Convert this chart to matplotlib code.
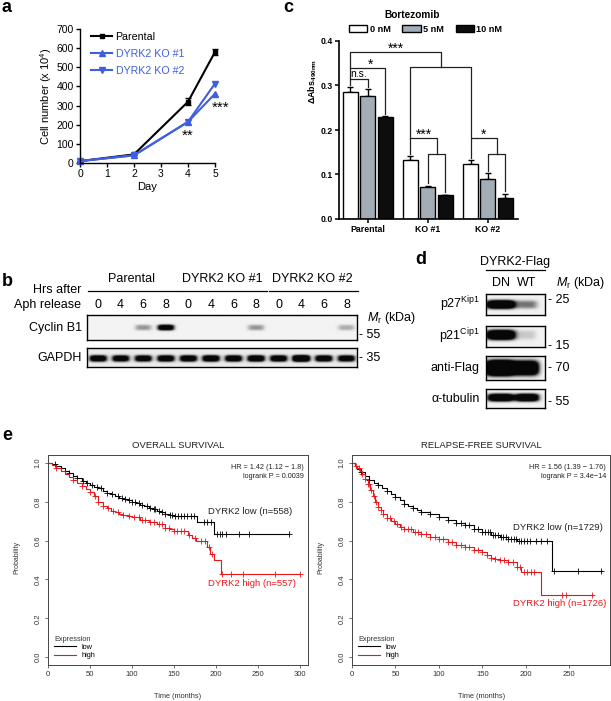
import numpy as np
import matplotlib
matplotlib.use('Agg')
import matplotlib.pyplot as plt
from matplotlib.lines import Line2D

plt.rcParams['font.family'] = ['Liberation Sans', 'DejaVu Sans']
plt.rcParams['mathtext.fontset'] = 'custom'
plt.rcParams['mathtext.rm'] = 'Liberation Sans'
plt.rcParams['mathtext.it'] = 'Liberation Sans:italic'
plt.rcParams['mathtext.bf'] = 'Liberation Sans:bold'

# ---------------- data ----------------
# panel a
days = [0, 2, 4, 5]
parental = [10, 45, 320, 580]
parental_err = [3, 5, 18, 18]
ko1 = [10, 40, 215, 362]
ko2 = [10, 40, 215, 415]

# panel c
groups = ['Parental', 'KO #1', 'KO #2']
doses = ['0 nM', '5 nM', '10 nM']
abs_0nm = [0.285, 0.133, 0.123]
abs_5nm = [0.277, 0.073, 0.090]
abs_10nm = [0.230, 0.053, 0.047]
err_0nm = [0.012, 0.009, 0.010]
err_5nm = [0.015, 0.002, 0.013]
err_10nm = [0.002, 0.002, 0.010]

# panel b (blot band intensities per lane)
b_groups = ['Parental', 'DYRK2 KO #1', 'DYRK2 KO #2']
b_hours = ['0', '4', '6', '8']
cyclinb1 = [0, 0, 0.4, 1.6, 0, 0, 0, 0.4, 0, 0, 0, 0.3]
gapdh = [1.6, 1.5, 1.5, 1.6, 1.6, 1.7, 1.6, 1.7, 1.6, 2.2, 1.6, 1.5]

# panel d
d_lanes = ['DN', 'WT']
p27 = [2.2, 0.55]
p21 = [2.2, 0.18]
antiflag = [3.5, 2.2]
tubulin = [2.0, 2.0]

# panel e  (Kaplan-Meier step curves)
os_low_t = [0, 5, 10, 15, 20, 25, 30, 35, 40, 45, 50, 55, 60, 65, 70, 75, 80, 85, 90, 95, 100,
            105, 110, 115, 120, 125, 130, 135, 140, 145, 150, 160, 170, 178, 198, 287]
os_low_s = [1.0, 0.995, 0.985, 0.972, 0.958, 0.945, 0.932, 0.92, 0.908, 0.898, 0.888, 0.878, 0.868,
            0.857, 0.847, 0.837, 0.828, 0.82, 0.813, 0.806, 0.80, 0.792, 0.784, 0.776, 0.768, 0.76,
            0.752, 0.745, 0.738, 0.73, 0.728, 0.726, 0.725, 0.693, 0.635, 0.635]
os_low_c = [8, 25, 35, 42, 46, 52, 58, 63, 70, 76, 84, 88, 92, 96, 100, 104, 108, 112, 118, 122,
            126, 128, 132, 136, 140, 145, 148, 152, 155, 158, 162, 166, 170, 174, 186, 190, 194,
            202, 205, 208, 212, 228, 240, 287]
os_high_t = [0, 5, 10, 15, 20, 25, 30, 35, 40, 45, 50, 55, 60, 65, 70, 75, 80, 85, 90, 95, 100,
             110, 120, 130, 140, 145, 150, 160, 167, 172, 177, 190, 193, 198, 206, 300]
os_high_s = [1.0, 0.99, 0.975, 0.96, 0.94, 0.925, 0.91, 0.895, 0.88, 0.865, 0.85, 0.83, 0.80, 0.78,
             0.765, 0.752, 0.745, 0.738, 0.73, 0.725, 0.72, 0.708, 0.697, 0.685, 0.665, 0.658, 0.65,
             0.648, 0.63, 0.615, 0.60, 0.565, 0.53, 0.50, 0.43, 0.43]
os_high_c = [10, 30, 40, 50, 56, 60, 66, 72, 78, 84, 90, 96, 102, 108, 112, 116, 122, 126, 132, 136,
             140, 144, 150, 154, 158, 162, 168, 175, 183, 187, 192, 196, 208, 218, 232, 271, 300]

rfs_low_t = [0, 3, 6, 10, 15, 20, 25, 30, 35, 40, 45, 50, 55, 60, 65, 70, 75, 80, 90, 100, 110, 120,
             130, 140, 150, 160, 170, 180, 190, 200, 230, 288]
rfs_low_s = [1.0, 0.985, 0.97, 0.952, 0.932, 0.913, 0.898, 0.885, 0.87, 0.855, 0.84, 0.825, 0.81,
             0.79, 0.778, 0.767, 0.757, 0.748, 0.735, 0.72, 0.705, 0.69, 0.678, 0.662, 0.645, 0.63,
             0.62, 0.61, 0.60, 0.598, 0.445, 0.445]
rfs_low_c = [10, 20, 30, 40, 50, 60, 70, 80, 90, 100, 110, 120, 125, 130, 135, 140, 145, 150, 153,
             156, 159, 162, 165, 168, 171, 174, 177, 180, 183, 186, 189, 192, 195, 198, 201, 205,
             212, 218, 224, 233, 260, 287]
rfs_high_t = [0, 3, 6, 9, 12, 15, 18, 21, 24, 27, 30, 33, 36, 40, 45, 50, 55, 60, 70, 80, 90, 100,
              110, 120, 130, 140, 150, 155, 160, 165, 170, 180, 190, 194, 217, 278]
rfs_high_s = [1.0, 0.985, 0.972, 0.958, 0.94, 0.915, 0.89, 0.86, 0.828, 0.80, 0.775, 0.755, 0.738,
              0.718, 0.70, 0.685, 0.668, 0.658, 0.645, 0.632, 0.62, 0.608, 0.593, 0.578, 0.565,
              0.553, 0.54, 0.525, 0.51, 0.505, 0.498, 0.49, 0.465, 0.44, 0.32, 0.32]
rfs_high_c = [5, 8, 12, 15, 18, 20, 22, 25, 28, 30, 33, 36, 40, 44, 48, 52, 56, 60, 64, 68, 72, 76,
              80, 85, 90, 95, 100, 105, 110, 115, 120, 125, 130, 135, 140, 145, 150, 155, 160, 165,
              170, 175, 180, 185, 190, 193, 198, 202, 206, 210, 242, 246, 276]

# ---------------- helpers ----------------
W, H = 611, 701
fig = plt.figure(figsize=(W / 100, H / 100), dpi=100)


def R(l, t, r, b):
    return [l / W, 1 - b / H, (r - l) / W, (b - t) / H]


def T(x, y, s, **kw):
    kw.setdefault('va', 'center')
    return fig.text(x / W, 1 - y / H, s, **kw)


def L(x0, y0, x1, y1, **kw):
    fig.add_artist(Line2D([x0 / W, x1 / W], [1 - y0 / H, 1 - y1 / H],
                          transform=fig.transFigure, color='k', **kw))


BLUE = '#3f5fe0'
RED = '#e8161b'

# panel letters
for x, y, s in [(2, 8, 'a'), (283, 7, 'c'), (2, 282, 'b'), (415, 260, 'd'), (2, 435, 'e')]:
    T(x, y, s, fontsize=13, weight='bold', ha='left')

# ---------------- panel a ----------------
ax = fig.add_axes(R(80, 29, 215, 163))
ax.errorbar(days, parental, yerr=parental_err, fmt='none', ecolor='k', elinewidth=1,
            capsize=2.2, capthick=1, clip_on=False)
ax.plot(days, parental, color='k', marker='s', ms=3.5, lw=1.5, label='Parental', clip_on=False)
ax.plot(days, ko1, color=BLUE, marker='^', ms=3.8, lw=1.5, label='DYRK2 KO #1', clip_on=False)
ax.plot(days, ko2, color=BLUE, marker='v', ms=3.8, lw=1.5, label='DYRK2 KO #2', clip_on=False)
ax.set_xlim(0, 5)
ax.set_ylim(0, 700)
ax.set_xticks(range(6))
ax.set_yticks(range(0, 701, 100))
for sp in ['top', 'right']:
    ax.spines[sp].set_visible(False)
for sp in ['left', 'bottom']:
    ax.spines[sp].set_linewidth(1)
ax.tick_params(labelsize=7.5, length=3, width=1, pad=1.5)
ax.set_xlabel('Day', fontsize=8, labelpad=2)
ax.set_ylabel('Cell number (x 10$^4$)', fontsize=8, labelpad=2)
leg = ax.legend(loc='upper left', bbox_to_anchor=(0.085, 0.98), frameon=False, fontsize=7.7,
                handlelength=1.9, handletextpad=0.35, labelspacing=0.65, borderaxespad=0, borderpad=0)
for txt, c in zip(leg.get_texts(), ['k', BLUE, BLUE]):
    txt.set_color(c)
ax.text(4, 142, '**', ha='center', va='center', fontsize=11)
ax.text(5.2, 290, '***', ha='center', va='center', fontsize=11, clip_on=False)

# ---------------- panel c ----------------
ax = fig.add_axes(R(339, 41, 518, 219))
xg = np.arange(len(groups))
offs = [-0.29, 0.0, 0.29]
vals = [abs_0nm, abs_5nm, abs_10nm]
errs = [err_0nm, err_5nm, err_10nm]
cols = ['white', '#a3adb5', '#0d0d0d']
bars = []
for j in range(3):
    bc = ax.bar(xg + offs[j], vals[j], width=0.25, color=cols[j], edgecolor='k', lw=1,
                label=doses[j], zorder=2)
    bars.append(bc)
    ax.errorbar(xg + offs[j], vals[j], yerr=[np.zeros(3), errs[j]], fmt='none', ecolor='k',
                elinewidth=1, capsize=2.2, capthick=1, zorder=1)
ax.set_xlim(-0.48, 2.5)
ax.set_ylim(0, 0.4)
ax.set_yticks([0, 0.1, 0.2, 0.3, 0.4])
ax.set_yticklabels(['0.0', '0.1', '0.2', '0.3', '0.4'], fontsize=6.2, weight='bold')
ax.set_xticks(xg)
ax.set_xticklabels(groups, fontsize=6.3, weight='bold')
for sp in ['top', 'right']:
    ax.spines[sp].set_visible(False)
for sp in ['left', 'bottom']:
    ax.spines[sp].set_linewidth(1.2)
ax.tick_params(length=3, width=1.1, pad=1.5)


def top(j, g):
    return vals[j][g] + errs[j][g] + 0.005


def pos(j, g):
    return xg[g] + offs[j]


def bracket(x1, y1, x2, y2, h, text=None, dy=0.004, fs=10, dx=0.0):
    ax.plot([x1, x1, x2, x2], [y1, h, h, y2], color='#222', lw=0.9, clip_on=False, zorder=3)
    if text:
        ax.text((x1 + x2) / 2 + dx, h + dy, text, ha='center', va='bottom', fontsize=fs,
                clip_on=False)


bracket(pos(0, 0), top(0, 0), pos(1, 0), top(1, 0), 0.315, 'n.s.', dy=0.0, fs=7.5, dx=-0.015)
bracket(pos(0, 0), 0.315, pos(2, 0), top(2, 0), 0.339, '*', dy=-0.008, dx=0.04)
for g, lab in [(1, '***'), (2, '*')]:
    bracket(pos(1, g), top(1, g), pos(2, g), top(2, g), 0.146)
    bracket(pos(0, g), top(0, g), (pos(1, g) + pos(2, g)) / 2, 0.146, 0.182, lab, dy=-0.008)
bracket(pos(0, 1), 0.182, pos(0, 2), 0.182, 0.342)
bracket(pos(0, 0), 0.339, (pos(0, 1) + pos(0, 2)) / 2, 0.342, 0.375, '***', dy=-0.008)

lg = ax.legend(handles=bars, ncol=3, loc='center left',
               bbox_to_anchor=(349 / W, 1 - 29 / H), bbox_transform=fig.transFigure, frameon=False,
               prop={'weight': 'bold', 'size': 6.6},
               handlelength=2.0, handleheight=0.85, handletextpad=0.25, columnspacing=1.3,
               borderpad=0, borderaxespad=0)
T(412, 15, 'Bortezomib', fontsize=7.3, weight='bold', ha='center')
T(313, 81, r'ΔAbs$_{\mathbf{490nm}}$', rotation=90, fontsize=6.5, weight='bold', ha='center')


# ---------------- blot helper ----------------
def blot(rect, lanes_int, xlim, band_y, band_h, band_w, bg=0.95):
    a = fig.add_axes(R(*rect))
    xs = np.linspace(xlim[0], xlim[1], 500)
    ys = np.linspace(0, 1, 80)
    X, Y = np.meshgrid(xs, ys)
    dark = np.zeros_like(X)
    for i, v in enumerate(lanes_int):
        w = band_w[i] if np.ndim(band_w) else band_w
        dark += v * np.exp(-np.abs((X - i) / w) ** 4) * np.exp(-np.abs((Y - band_y) / band_h) ** 3)
    img = bg * (1 - 0.97 * np.clip(dark, 0, 1))
    a.imshow(img, cmap='gray', vmin=0, vmax=1, extent=(xlim[0], xlim[1], 1, 0),
             aspect='auto', interpolation='bilinear')
    a.set_xticks([])
    a.set_yticks([])
    for sp in a.spines.values():
        sp.set_linewidth(1)
    return a


# ---------------- panel b ----------------
lane0, dl = 98, 22.6
bxlim = ((87 - lane0) / dl, (357 - lane0) / dl)
blot((87, 315, 357, 340), cyclinb1, bxlim, 0.52, 0.11, 0.36)
blot((87, 348, 357, 367), gapdh, bxlim, 0.55, 0.17, 0.38, bg=0.92)
for gi, g in enumerate(b_groups):
    xs_l = [lane0 + dl * (4 * gi + k) for k in range(4)]
    T((xs_l[0] + xs_l[-1]) / 2, 279, g, fontsize=9, ha='center')
    L(xs_l[0] - 10, 291, xs_l[-1] + 11, 291, lw=0.9)
    for k, hlab in enumerate(b_hours):
        T(xs_l[k], 305, hlab, fontsize=9, ha='center')
T(81, 290, 'Hrs after', fontsize=9, ha='right')
T(81, 305, 'Aph release', fontsize=9, ha='right')
T(82, 328, 'Cyclin B1', fontsize=9, ha='right')
T(82, 358, 'GAPDH', fontsize=9, ha='right')
T(367, 318, r'$M_\mathrm{r}$ (kDa)', fontsize=9, ha='left')
T(359, 335, '- 55', fontsize=9, ha='left')
T(359, 358, '- 35', fontsize=9, ha='left')

# ---------------- panel d ----------------
d0, dd = 501, 26
dxlim = ((486 - d0) / dd, (545 - d0) / dd)
blot((486, 294, 545, 315), p27, dxlim, 0.5, 0.2, [0.55, 0.4])
blot((486, 326, 545, 347), p21, dxlim, 0.45, 0.22, [0.55, 0.35])
blot((486, 356, 545, 380), antiflag, dxlim, 0.5, 0.3, [0.58, 0.45])
blot((486, 389, 545, 408), tubulin, dxlim, 0.45, 0.2, [0.5, 0.45])
T(515, 262, 'DYRK2-Flag', fontsize=9, ha='center')
L(486, 270, 545, 270, lw=0.9)
for k, s in enumerate(d_lanes):
    T(d0 + dd * k, 283, s, fontsize=9, ha='center')
T(556, 283, r'$M_\mathrm{r}$ (kDa)', fontsize=9, ha='left')
T(480, 304, r'p27$^{\mathrm{Kip1}}$', fontsize=9, ha='right')
T(480, 336, r'p21$^{\mathrm{Cip1}}$', fontsize=9, ha='right')
T(480, 368, 'anti-Flag', fontsize=9, ha='right')
T(480, 399, 'α-tubulin', fontsize=9, ha='right')
for y, s in [(300, '- 25'), (346, '- 15'), (368, '- 70'), (402, '- 55')]:
    T(548, y, s, fontsize=9, ha='left')


# ---------------- panel e ----------------
def km_axes(rect, xmax, xticks, title, hr, low, high, lowlab, highlab, lowpos, highpos,
            problab_x, xlab_x):
    a = fig.add_axes(R(*rect))
    for (t, s, c), col in [(low, 'k'), (high, RED)]:
        a.step(t, s, where='post', color=col, lw=0.8)
        idx = np.searchsorted(t, c, side='right') - 1
        a.plot(c, np.asarray(s)[idx], ls='none', marker='+', ms=3.8, mew=0.6, color=col)
    a.set_xlim(0, xmax)
    a.set_ylim(-0.04, 1.04)
    a.set_xticks(xticks)
    a.set_yticks([0, 0.2, 0.4, 0.6, 0.8, 1.0])
    a.set_yticklabels(['0.0', '0.2', '0.4', '0.6', '0.8', '1.0'])
    a.tick_params(labelsize=5.5, length=2.5, width=0.5, colors='#333', pad=2)
    a.tick_params(axis='y', labelrotation=90)
    for lbl in a.get_yticklabels():
        lbl.set_va('center')
    for sp in a.spines.values():
        sp.set_linewidth(0.7)
        sp.set_color('#444')
    a.set_title(title, fontsize=6.8, pad=5, color='#222')
    a.text(0.985, 0.955, hr, transform=a.transAxes, ha='right', va='top', fontsize=5.2,
           linespacing=1.25, color='#222')
    T(lowpos[0], lowpos[1], lowlab, fontsize=6.8, ha='left', color='#222')
    T(highpos[0], highpos[1], highlab, fontsize=6.8, ha='left', color=RED)
    T(problab_x, 557, 'Probability', fontsize=5, rotation=90, ha='center', color='#333')
    T(xlab_x, 696, 'Time (months)', fontsize=5.3, ha='center', color='#333')
    lg = a.legend(handles=[Line2D([], [], color='k', lw=0.8, label='low'),
                           Line2D([], [], color=RED, lw=0.8, label='high')],
                  title='Expression', loc='lower left', frameon=False, fontsize=5.3,
                  title_fontsize=5.3, handlelength=3, alignment='left', borderaxespad=0.4,
                  labelspacing=0.15, handletextpad=0.8)
    lg.get_title().set_color('#333')
    return a


km_axes((48, 455, 308, 665), 310, range(0, 301, 50), 'OVERALL SURVIVAL',
        'HR = 1.42 (1.12 − 1.8)\nlogrank P = 0.0039',
        (os_low_t, os_low_s, os_low_c), (os_high_t, os_high_s, os_high_c),
        'DYRK2 low (n=558)', 'DYRK2 high (n=557)', (208, 512), (208, 583), 17, 178)
km_axes((352, 455, 610, 665), 297, range(0, 251, 50), 'RELAPSE-FREE SURVIVAL',
        'HR = 1.56 (1.39 − 1.76)\nlogrank P = 3.4e−14',
        (rfs_low_t, rfs_low_s, rfs_low_c), (rfs_high_t, rfs_high_s, rfs_high_c),
        'DYRK2 low (n=1729)', 'DYRK2 high (n=1726)', (513, 527), (513, 603), 321, 482)

fig.savefig('out.png', dpi=100)
